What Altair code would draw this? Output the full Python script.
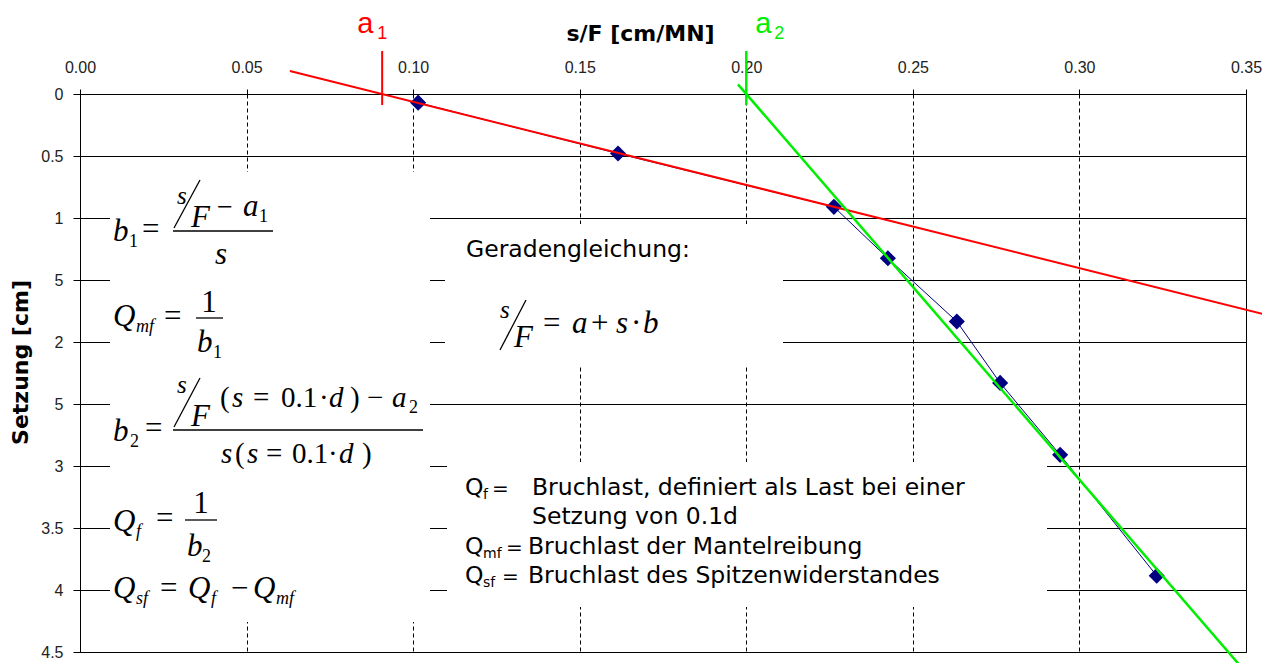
import altair as alt
import pandas as pd

# ---------------- data ----------------
points_x = [0.1015, 0.1615, 0.2263, 0.2425, 0.2632, 0.2762, 0.2942, 0.3232]   # s/F [cm/MN]
points_y = [0.07, 0.48, 0.91, 1.325, 1.835, 2.33, 2.91, 3.885]                # Setzung [cm]

a1 = 0.0907
a2 = 0.20
red_line_x = [0.063, 0.3572]
red_line_y = [-0.186, 1.788]
green_line_x = [0.1975, 0.3496]
green_line_y = [-0.078, 4.653]
marker_y = [-0.347, 0.089]

x_ticks = [0.0, 0.05, 0.10, 0.15, 0.20, 0.25, 0.30, 0.35]
y_ticks = [0.0, 0.5, 1.0, 1.5, 2.0, 2.5, 3.0, 3.5, 4.0, 4.5]

# ---------------- layout / style ----------------
MARGIN = 8
X0, Y0 = 80, 94          # page position of the plot origin
W, H = 1166, 558
SERIF = "Liberation Serif"
SANS = "DejaVu Sans"
AXF = "Liberation Sans"
NAVY = "#000080"
RED = "#ff0000"
GREEN = "#00ee00"
FS = 31                  # formula font size
SS = 25                  # raised "s" in slashed fractions

xs = alt.Scale(domain=[0, 0.35], nice=False, zero=False)
ys = alt.Scale(domain=[0, 4.5], nice=False, zero=False, reverse=True)

X = alt.X("x:Q", scale=xs, axis=alt.Axis(
    orient="top", values=x_ticks, format=".2f", title="s/F [cm/MN]",
    labelFont=AXF, labelFontSize=16, labelColor="#222", labelPadding=14, labelFlush=False,
    tickSize=5, tickColor="black", domainColor="black",
    grid=True, gridColor="black", gridDash=[4, 3], gridWidth=1, gridOpacity=1,
    titleFont=SANS, titleFontSize=22, titleFontWeight="bold", titleColor="black",
    titleX=560, titleY=-54, titleAlign="center", titleBaseline="alphabetic"))

Y = alt.Y("y:Q", scale=ys, axis=alt.Axis(
    orient="left", values=y_ticks,
    labelExpr="(datum.value == 1.5 || datum.value == 2.5) ? '5' : format(datum.value, '~g')",
    labelFont=AXF, labelFontSize=16, labelColor="#222", labelPadding=10, labelFlush=False,
    tickSize=7, tickColor="black", domainColor="black",
    grid=True, gridColor="black", gridWidth=1, gridOpacity=1,
    title="Setzung [cm]", titleFont=SANS, titleFontSize=22, titleFontWeight="bold",
    titleColor="black", titleX=-53, titleY=268, titleAngle=270, titleAlign="center",
    titleBaseline="alphabetic"))

anchor = pd.DataFrame({"k": [0]})


def T(text, x, y, size, font=SERIF, style="normal", color="black", align="left", weight="normal"):
    return alt.Chart(anchor).mark_text(
        text=text, font=font, fontSize=size, fontStyle=style, fontWeight=weight,
        color=color, align=align, baseline="alphabetic"
    ).encode(x=alt.value(x - X0), y=alt.value(y - Y0))


def I(text, x, y, size):
    return T(text, x, y, size, style="italic")


def L(x1, y1, x2, y2, width=1.3, color="black"):
    return alt.Chart(anchor).mark_rule(strokeWidth=width, color=color).encode(
        x=alt.value(x1 - X0), y=alt.value(y1 - Y0), x2=alt.value(x2 - X0), y2=alt.value(y2 - Y0))


def BOX(x1, y1, x2, y2):
    return alt.Chart(anchor).mark_rect(color="white").encode(
        x=alt.value(x1 - X0), y=alt.value(y1 - Y0), x2=alt.value(x2 - X0), y2=alt.value(y2 - Y0))


# ---------------- data layers ----------------
pts = pd.DataFrame({"x": points_x, "y": points_y})
red = pd.DataFrame({"x": red_line_x, "y": red_line_y})
green = pd.DataFrame({"x": green_line_x, "y": green_line_y})
mk = pd.DataFrame({"x": [a1, a2], "y": [marker_y[0]] * 2, "y2": [marker_y[1]] * 2,
                   "c": ["a1", "a2"]})

boxes = [BOX(110, 172, 430, 622), BOX(445, 224, 783, 365), BOX(447, 462, 1047, 607)]

blue_line = alt.Chart(pts).mark_line(color=NAVY, strokeWidth=1).encode(x=X, y=Y)
diamonds = alt.Chart(pts).mark_point(shape="diamond", filled=True, size=260, color=NAVY,
                                     opacity=1).encode(x=X, y=Y)
red_l = alt.Chart(red).mark_line(color=RED, strokeWidth=2).encode(x=X, y=Y)
green_l = alt.Chart(green).mark_line(color=GREEN, strokeWidth=2.5).encode(x=X, y=Y)
red_mk = alt.Chart(mk[mk.c == "a1"]).mark_rule(color=RED, strokeWidth=2).encode(
    x=X, y=Y, y2=alt.Y2("y2:Q"))
green_mk = alt.Chart(mk[mk.c == "a2"]).mark_rule(color=GREEN, strokeWidth=2.5).encode(
    x=X, y=Y, y2=alt.Y2("y2:Q"))


def AL(val, text, dx, size, ybase, color):
    return alt.Chart(pd.DataFrame({"x": [val]})).mark_text(
        text=text, font=AXF, fontSize=size, color=color, align="left", baseline="alphabetic", dx=dx
    ).encode(x=X, y=alt.value(ybase - Y0))


a_labels = [AL(a1, "a", -25, 29, 33, RED), AL(a1, "1", -5, 18, 39, RED),
            AL(a2, "a", 9, 29, 33, GREEN), AL(a2, "2", 28, 18, 39, GREEN)]

# ---------------- formulas (box 1) ----------------
f = []
# b1 = (s/F - a1) / s
f += [I("b", 113, 241, FS), T("1", 129, 247, 18), T("=", 142, 239, FS),
      L(173, 231, 273, 231),
      I("s", 177, 204, SS), L(174, 228, 200, 180), I("F", 191, 227, FS),
      T("−", 217, 216, 28), I("a", 243, 216, FS), T("1", 259, 222, 18),
      I("s", 215, 264, FS)]
# Qmf = 1 / b1
f += [I("Q", 113, 326, FS), I("mf", 136, 332, 18), T("=", 164, 326, FS),
      L(196, 318, 223, 318), T("1", 209, 312, FS, align="center"),
      I("b", 197, 352, FS), T("1", 213, 358, 18)]
# b2 = (s/F(s=0.1*d) - a2) / s(s=0.1*d)
f += [I("b", 113, 441, FS), T("2", 130, 447, 18), T("=", 145, 438, FS),
      L(173, 430, 423, 430),
      I("s", 177, 393, SS), L(174, 427, 200, 378), I("F", 191, 426, FS),
      T("(", 220, 407, 29), I("s", 232, 407, 29), T("=", 253, 407, 29), T("0.1", 281, 407, 29),
      T("·", 319, 407, 29), I("d", 329, 407, 29), T(")", 350, 407, 29), T("−", 367, 407, 29),
      I("a", 392, 407, 29), T("2", 409, 413, 18),
      I("s", 221, 463, 29), T("(", 235, 463, 29), I("s", 247, 463, 29), T("=", 266, 463, 29),
      T("0.1", 292, 463, 29), T("·", 328, 463, 29), I("d", 339, 463, 29), T(")", 362, 463, 29)]
# Qf = 1 / b2
f += [I("Q", 113, 531, FS), I("f", 136, 537, 18), T("=", 156, 528, FS),
      L(185, 520, 217, 520), T("1", 201, 513, FS, align="center"),
      I("b", 187, 556, FS), T("2", 202, 562, 18)]
# Qsf = Qf - Qmf
f += [I("Q", 113, 598, FS), I("sf", 136, 604, 18), T("=", 160, 598, FS),
      I("Q", 188, 598, FS), I("f", 211, 604, 18), T("−", 231, 598, FS),
      I("Q", 253, 598, FS), I("mf", 276, 604, 18)]

# ---------------- box 2 ----------------
g = [T("Geradengleichung:", 466, 257, 23.5, font=SANS),
     I("s", 500, 318, SS), L(500, 350, 526, 300), I("F", 514, 347, FS),
     T("=", 543, 333, FS), I("a", 572, 333, FS), T("+", 591, 333, FS),
     I("s", 616, 333, FS), T("·", 631, 333, FS), I("b", 643, 333, FS)]

# ---------------- box 3 ----------------
S = 23.5
q = [T("Q", 465, 495, S, font=SANS), T("f", 483, 499, 14, font=SANS), T("=", 492, 495, 20, font=SANS),
     T("Bruchlast, definiert als Last bei einer", 532, 495, S, font=SANS),
     T("Setzung von 0.1d", 532, 524, S, font=SANS),
     T("Q", 465, 554, S, font=SANS), T("mf", 483, 558, 14, font=SANS), T("=", 506, 554, 20, font=SANS),
     T("Bruchlast der Mantelreibung", 528, 554, S, font=SANS),
     T("Q", 465, 583, S, font=SANS), T("sf", 483, 587, 14, font=SANS), T("=", 502, 583, 20, font=SANS),
     T("Bruchlast des Spitzenwiderstandes", 528, 583, S, font=SANS)]

chart = alt.layer(
    *boxes, blue_line, diamonds, red_l, green_l, red_mk, green_mk, *a_labels, *f, *g, *q
).properties(
    width=W, height=H,
    autosize=alt.AutoSizeParams(type="none"),
    padding={"left": X0 - MARGIN, "top": Y0 - MARGIN,
             "right": 1270 - 2 * MARGIN - X0 - W + MARGIN,
             "bottom": 671 - 2 * MARGIN - Y0 - H + MARGIN},
    background="white",
).configure_view(stroke="black", strokeWidth=1)

chart.save("out.html", embed_options={"renderer": "svg", "actions": False})
